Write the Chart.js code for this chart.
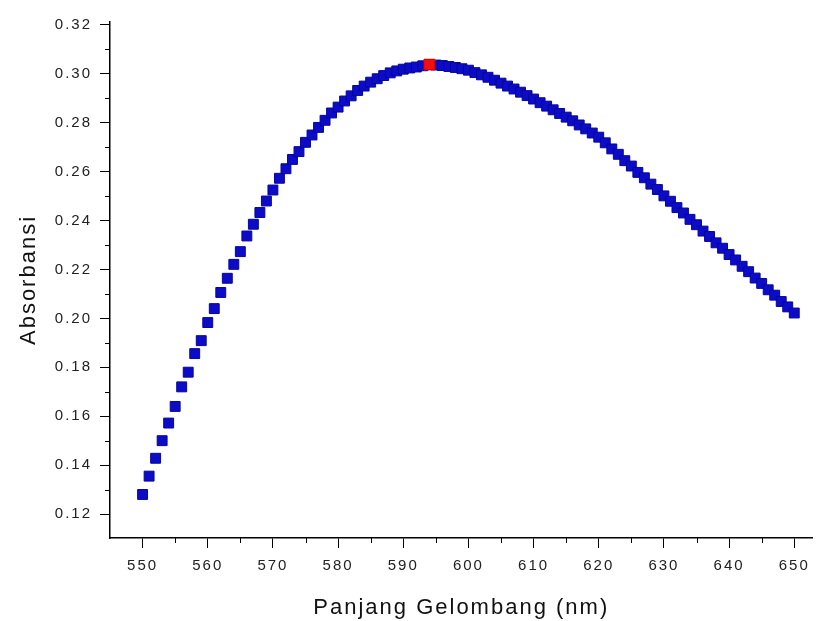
<!DOCTYPE html>
<html>
<head>
<meta charset="utf-8">
<script src="https://cdn.jsdelivr.net/npm/chart.js@4.4.0/dist/chart.umd.min.js"></script>
<style>
  html, body { margin: 0; padding: 0; background: #fff; }
  canvas { display: block; }
</style>
</head>
<body>
<canvas id="chart" width="821" height="621"></canvas>
<script>
// Spectrum (1 nm steps)
const wavelengths = [
    550, 551, 552, 553, 554, 555, 556, 557, 558, 559,
    560, 561, 562, 563, 564, 565, 566, 567, 568, 569,
    570, 571, 572, 573, 574, 575, 576, 577, 578, 579,
    580, 581, 582, 583, 584, 585, 586, 587, 588, 589,
    590, 591, 592, 593, 594, 595, 596, 597, 598, 599,
    600, 601, 602, 603, 604, 605, 606, 607, 608, 609,
    610, 611, 612, 613, 614, 615, 616, 617, 618, 619,
    620, 621, 622, 623, 624, 625, 626, 627, 628, 629,
    630, 631, 632, 633, 634, 635, 636, 637, 638, 639,
    640, 641, 642, 643, 644, 645, 646, 647, 648, 649,
    650
];
const absorbance = [
    0.1280, 0.1355, 0.1428, 0.1500, 0.1572, 0.1640, 0.1720, 0.1780, 0.1856, 0.1909,
    0.1983, 0.2040, 0.2106, 0.2164, 0.2221, 0.2273, 0.2337, 0.2385, 0.2433, 0.2480,
    0.2525, 0.2573, 0.2612, 0.2650, 0.2682, 0.2720, 0.2750, 0.2781, 0.2810, 0.2840,
    0.2864, 0.2889, 0.2910, 0.2932, 0.2950, 0.2966, 0.2980, 0.2993, 0.3004, 0.3012,
    0.3019, 0.3024, 0.3028, 0.3033, 0.3038, 0.3036, 0.3034, 0.3030, 0.3026, 0.3021,
    0.3015, 0.3005, 0.2996, 0.2986, 0.2974, 0.2962, 0.2950, 0.2938, 0.2925, 0.2911,
    0.2897, 0.2882, 0.2868, 0.2853, 0.2838, 0.2823, 0.2808, 0.2791, 0.2775, 0.2758,
    0.2741, 0.2718, 0.2693, 0.2671, 0.2645, 0.2623, 0.2597, 0.2575, 0.2549, 0.2527,
    0.2501, 0.2479, 0.2453, 0.2431, 0.2405, 0.2383, 0.2357, 0.2335, 0.2309, 0.2287,
    0.2261, 0.2239, 0.2213, 0.2191, 0.2165, 0.2143, 0.2117, 0.2095, 0.2069, 0.2047,
    0.2022
];

// Maximum absorbance (red marker)
const peakWavelength = [594];
const peakAbsorbance = [0.3038];

const xTicks = [550, 560, 570, 580, 590, 600, 610, 620, 630, 640, 650];
const xMinorTicks = [555, 565, 575, 585, 595, 605, 615, 625, 635, 645];
const yTicks = [0.12, 0.14, 0.16, 0.18, 0.20, 0.22, 0.24, 0.26, 0.28, 0.30, 0.32];
const yMinorTicks = [0.13, 0.15, 0.17, 0.19, 0.21, 0.23, 0.25, 0.27, 0.29, 0.31];

// the scanned figure's lettering is wide, spread it a little
const wideText = {
    id: "wideText",
    beforeUpdate(chart) {
        chart.ctx.letterSpacing = "2px";
    },
    beforeDraw(chart) {
        chart.ctx.letterSpacing = "2px";
    },
};

// short ticks between the labelled ones
const minorTicks = {
    id: "minorTicks",
    afterDraw(chart) {
        const { ctx, scales: { x, y } } = chart;
        ctx.save();
        ctx.strokeStyle = "#000";
        ctx.lineWidth = 1;
        ctx.beginPath();
        xMinorTicks.forEach((v) => {
            const px = Math.round(x.getPixelForValue(v)) + 0.5;
            ctx.moveTo(px, x.top);
            ctx.lineTo(px, x.top + 5);
        });
        yMinorTicks.forEach((v) => {
            const py = Math.round(y.getPixelForValue(v)) + 0.5;
            ctx.moveTo(y.right, py);
            ctx.lineTo(y.right - 5, py);
        });
        ctx.stroke();
        ctx.restore();
    },
};

const axisGrid = {
    display: true,
    drawOnChartArea: false,
    drawTicks: true,
    tickLength: 10,
    tickColor: "#000",
    tickWidth: 1,
};

const ctx = document.getElementById("chart").getContext("2d");
new Chart(ctx, {
    type: "scatter",
    data: {
        datasets: [
            {
                label: "Puncak",
                data: peakWavelength.map((w, i) => ({ x: w, y: peakAbsorbance[i] })),
                pointStyle: "rect",
                pointRadius: 7.5,
                backgroundColor: "#f01010",
                borderColor: "#e00000",
                borderWidth: 1,
                clip: false,
            },
            {
                label: "Absorbansi",
                data: wavelengths.map((w, i) => ({ x: w, y: absorbance[i] })),
                pointStyle: "rect",
                pointRadius: 7,
                backgroundColor: "#0c0cc8",
                borderColor: "#06069a",
                borderWidth: 1,
                clip: false,
            },
        ],
    },
    options: {
        responsive: false,
        animation: false,
        devicePixelRatio: 1,
        layout: { padding: { top: 22, right: 0, bottom: 0, left: 0 } },
        plugins: {
            legend: { display: false },
            tooltip: { enabled: false },
        },
        scales: {
            x: {
                type: "linear",
                min: 545,
                max: 652.8,
                grid: axisGrid,
                border: { display: true, color: "#000", width: 1.5 },
                afterBuildTicks: (scale) => {
                    scale.ticks = xTicks.map((v) => ({ value: v }));
                },
                afterFit: (scale) => {
                    scale.height = 83;
                },
                ticks: {
                    autoSkip: false,
                    maxRotation: 0,
                    padding: 9,
                    color: "#222",
                    font: { family: "'Liberation Sans', Arial, sans-serif", size: 15 },
                    callback: (v) => String(v),
                },
                title: {
                    display: true,
                    text: "Panjang Gelombang (nm)",
                    color: "#111",
                    padding: { top: 0, bottom: 0 },
                    font: { family: "'Liberation Sans', Arial, sans-serif", size: 22, lineHeight: 1.2 },
                },
            },
            y: {
                type: "linear",
                min: 0.1102,
                max: 0.3212,
                grid: axisGrid,
                border: { display: true, color: "#000", width: 1.5 },
                afterBuildTicks: (scale) => {
                    scale.ticks = yTicks.map((v) => ({ value: v }));
                },
                afterFit: (scale) => {
                    scale.width = 110;
                },
                ticks: {
                    padding: 8,
                    color: "#222",
                    font: { family: "'Liberation Sans', Arial, sans-serif", size: 15 },
                    callback: (v) => Number(v).toFixed(2),
                },
                title: {
                    display: true,
                    text: "Absorbansi",
                    color: "#111",
                    padding: { top: 16, bottom: 0 },
                    font: { family: "'Liberation Sans', Arial, sans-serif", size: 22, lineHeight: 1.2 },
                },
            },
        },
    },
    plugins: [wideText, minorTicks],
});
</script>
</body>
</html>
